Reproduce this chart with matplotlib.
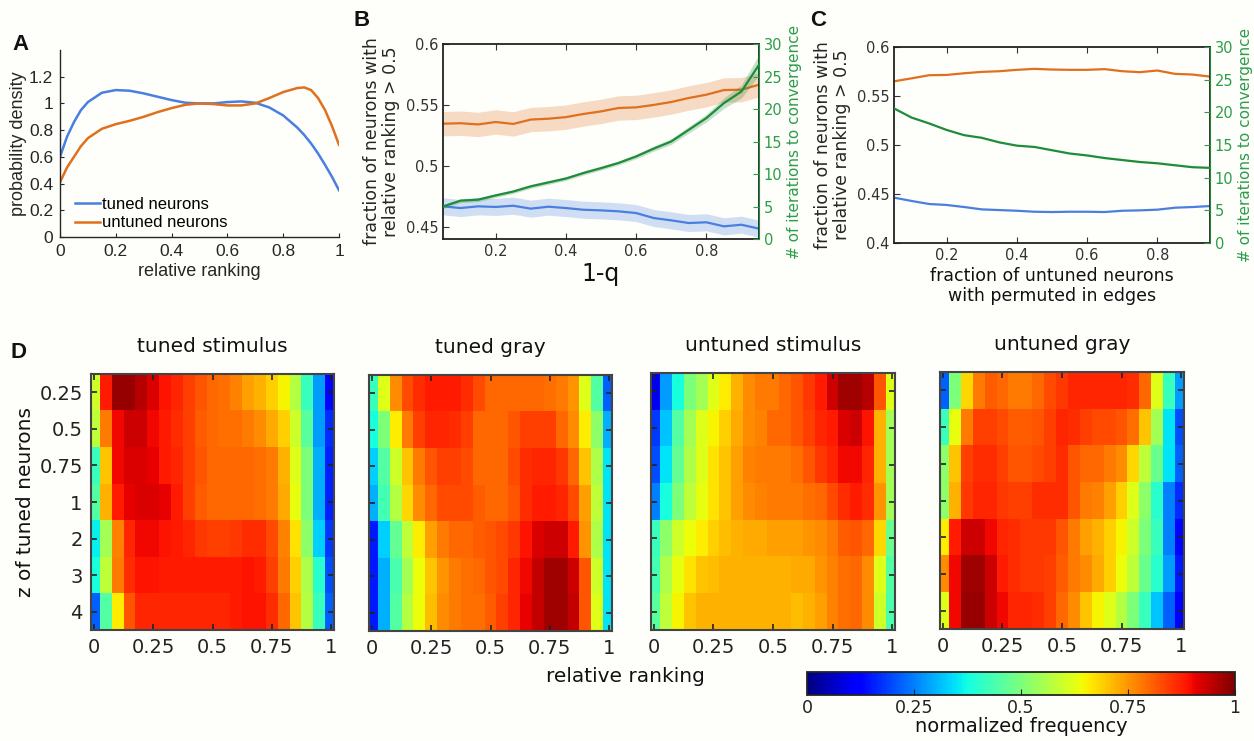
import numpy as np
import matplotlib
matplotlib.use("Agg")
import matplotlib.pyplot as plt

plt.rcParams["font.family"] = ["DejaVu Sans"]

W, H = 1254, 741

# ---------- data ----------
# A: probability density vs relative ranking
rank_x = [0, 0.025, 0.05, 0.075, 0.1, 0.15, 0.2, 0.25, 0.3, 0.35, 0.4, 0.45, 0.5,
          0.55, 0.6, 0.65, 0.7, 0.75, 0.8, 0.85, 0.875, 0.9, 0.925, 0.95, 0.975, 1.0]
dens_tuned = [0.6, 0.75, 0.86, 0.95, 1.01, 1.08, 1.1, 1.095, 1.075, 1.05, 1.025, 1.005, 1.0,
              1.0, 1.01, 1.015, 1.005, 0.97, 0.91, 0.82, 0.765, 0.7, 0.625, 0.54, 0.45, 0.35]
dens_untuned = [0.41, 0.52, 0.6, 0.68, 0.74, 0.81, 0.845, 0.87, 0.9, 0.935, 0.965, 0.99, 1.0,
                0.995, 0.985, 0.985, 1.0, 1.04, 1.085, 1.115, 1.12, 1.1, 1.04, 0.95, 0.83, 0.69]

# B and C share the same x grid
frac_x = [0.05, 0.1, 0.15, 0.2, 0.25, 0.3, 0.35, 0.4, 0.45, 0.5,
          0.55, 0.6, 0.65, 0.7, 0.75, 0.8, 0.85, 0.9, 0.95]

b_untuned = [0.5346, 0.535, 0.534, 0.536, 0.5344, 0.538, 0.5387, 0.540, 0.5426, 0.5447,
             0.5475, 0.548, 0.550, 0.5524, 0.5557, 0.5584, 0.5622, 0.5625, 0.5666]
b_untuned_err = [0.010] * 19
b_tuned = [0.4668, 0.4654, 0.4668, 0.4663, 0.4673, 0.4649, 0.4665, 0.4654, 0.464, 0.4635,
           0.4627, 0.4613, 0.4572, 0.4553, 0.4531, 0.4537, 0.4504, 0.4517, 0.4485]
b_tuned_err = [0.007] * 19
b_iters = [5.0, 5.9, 6.05, 6.7, 7.3, 8.1, 8.7, 9.3, 10.15, 10.9,
           11.7, 12.7, 13.9, 15.0, 16.8, 18.6, 20.9, 22.7, 26.8]
b_iters_err = [0.3, 0.3, 0.3, 0.3, 0.3, 0.3, 0.3, 0.3, 0.3, 0.3,
               0.3, 0.35, 0.4, 0.45, 0.5, 0.6, 0.8, 1.0, 1.6]

c_untuned = [0.565, 0.568, 0.5712, 0.5715, 0.5732, 0.5746, 0.5753, 0.5767, 0.5777, 0.577,
             0.5767, 0.5767, 0.5774, 0.5753, 0.5743, 0.576, 0.5726, 0.5719, 0.5698]
c_tuned = [0.4463, 0.4429, 0.4398, 0.4388, 0.4367, 0.4343, 0.4336, 0.4329, 0.4319, 0.4316,
           0.4319, 0.4319, 0.4316, 0.4329, 0.4333, 0.434, 0.436, 0.4367, 0.4377]
c_iters = [20.6, 19.2, 18.3, 17.3, 16.5, 16.1, 15.4, 14.9, 14.7, 14.2,
           13.7, 13.4, 13.0, 12.7, 12.4, 12.2, 11.9, 11.6, 11.5]

# D: normalized frequency, rows = z of tuned neurons, columns = relative ranking bins
z_labels = ["0.25", "0.5", "0.75", "1", "2", "3", "4"]
heat_x = [0, 0.05, 0.1, 0.15, 0.2, 0.25, 0.3, 0.35, 0.4, 0.45, 0.5,
          0.55, 0.6, 0.65, 0.7, 0.75, 0.8, 0.85, 0.9, 0.95, 1.0]

tuned_stimulus = [
    [0.60, 0.88, 0.98, 0.98, 0.95, 0.92, 0.89, 0.87, 0.84, 0.82, 0.80, 0.79, 0.77, 0.74, 0.72, 0.69, 0.65, 0.57, 0.42, 0.28, 0.13],
    [0.58, 0.78, 0.90, 0.93, 0.93, 0.90, 0.88, 0.86, 0.84, 0.81, 0.80, 0.79, 0.79, 0.78, 0.76, 0.73, 0.69, 0.60, 0.46, 0.28, 0.17],
    [0.42, 0.70, 0.90, 0.92, 0.92, 0.91, 0.88, 0.87, 0.84, 0.82, 0.80, 0.80, 0.80, 0.80, 0.79, 0.78, 0.72, 0.62, 0.50, 0.30, 0.16],
    [0.45, 0.72, 0.88, 0.91, 0.92, 0.92, 0.91, 0.88, 0.84, 0.81, 0.80, 0.80, 0.80, 0.80, 0.79, 0.78, 0.73, 0.63, 0.50, 0.30, 0.16],
    [0.36, 0.55, 0.77, 0.87, 0.90, 0.90, 0.89, 0.88, 0.87, 0.85, 0.84, 0.84, 0.85, 0.86, 0.86, 0.83, 0.77, 0.67, 0.52, 0.33, 0.18],
    [0.38, 0.58, 0.78, 0.86, 0.89, 0.89, 0.88, 0.88, 0.88, 0.88, 0.88, 0.88, 0.88, 0.89, 0.88, 0.84, 0.78, 0.69, 0.56, 0.40, 0.20],
    [0.22, 0.45, 0.66, 0.82, 0.87, 0.87, 0.87, 0.87, 0.87, 0.87, 0.87, 0.87, 0.88, 0.89, 0.89, 0.86, 0.80, 0.70, 0.57, 0.42, 0.22],
]
tuned_gray = [
    [0.42, 0.62, 0.76, 0.83, 0.86, 0.88, 0.88, 0.88, 0.86, 0.83, 0.80, 0.80, 0.80, 0.80, 0.80, 0.79, 0.78, 0.75, 0.62, 0.45, 0.22],
    [0.38, 0.50, 0.66, 0.78, 0.84, 0.87, 0.87, 0.86, 0.84, 0.80, 0.80, 0.80, 0.82, 0.84, 0.84, 0.84, 0.80, 0.76, 0.66, 0.52, 0.30],
    [0.33, 0.45, 0.60, 0.70, 0.78, 0.82, 0.84, 0.84, 0.83, 0.80, 0.80, 0.80, 0.83, 0.86, 0.87, 0.87, 0.85, 0.80, 0.70, 0.56, 0.35],
    [0.30, 0.43, 0.57, 0.68, 0.76, 0.80, 0.83, 0.83, 0.83, 0.81, 0.80, 0.80, 0.82, 0.86, 0.88, 0.88, 0.87, 0.83, 0.74, 0.58, 0.35],
    [0.15, 0.33, 0.47, 0.58, 0.66, 0.74, 0.78, 0.80, 0.80, 0.81, 0.82, 0.83, 0.85, 0.89, 0.92, 0.93, 0.93, 0.88, 0.75, 0.56, 0.35],
    [0.15, 0.30, 0.44, 0.55, 0.64, 0.70, 0.75, 0.78, 0.79, 0.80, 0.82, 0.83, 0.87, 0.90, 0.94, 0.97, 0.97, 0.93, 0.82, 0.60, 0.35],
    [0.15, 0.30, 0.45, 0.57, 0.64, 0.71, 0.76, 0.78, 0.79, 0.79, 0.81, 0.84, 0.87, 0.91, 0.94, 0.97, 0.97, 0.94, 0.82, 0.62, 0.35],
]
untuned_stimulus = [
    [0.10, 0.28, 0.38, 0.50, 0.55, 0.62, 0.66, 0.72, 0.76, 0.78, 0.78, 0.80, 0.82, 0.85, 0.88, 0.93, 0.97, 0.97, 0.95, 0.82, 0.62],
    [0.18, 0.32, 0.45, 0.55, 0.62, 0.65, 0.69, 0.73, 0.76, 0.77, 0.80, 0.80, 0.82, 0.84, 0.87, 0.88, 0.92, 0.93, 0.89, 0.72, 0.55],
    [0.20, 0.35, 0.47, 0.56, 0.62, 0.67, 0.70, 0.74, 0.77, 0.78, 0.78, 0.78, 0.79, 0.82, 0.85, 0.87, 0.90, 0.90, 0.87, 0.72, 0.55],
    [0.25, 0.38, 0.50, 0.58, 0.63, 0.67, 0.70, 0.74, 0.76, 0.77, 0.78, 0.78, 0.78, 0.79, 0.80, 0.83, 0.86, 0.88, 0.86, 0.75, 0.55],
    [0.42, 0.52, 0.60, 0.64, 0.66, 0.69, 0.71, 0.72, 0.73, 0.73, 0.74, 0.74, 0.74, 0.75, 0.76, 0.78, 0.81, 0.82, 0.80, 0.68, 0.48],
    [0.43, 0.56, 0.63, 0.67, 0.70, 0.71, 0.72, 0.72, 0.72, 0.72, 0.72, 0.72, 0.73, 0.73, 0.75, 0.77, 0.79, 0.80, 0.76, 0.62, 0.45],
    [0.46, 0.58, 0.65, 0.70, 0.72, 0.72, 0.72, 0.72, 0.72, 0.72, 0.72, 0.72, 0.71, 0.72, 0.74, 0.77, 0.79, 0.80, 0.76, 0.60, 0.44],
]
untuned_gray = [
    [0.22, 0.50, 0.68, 0.78, 0.81, 0.80, 0.78, 0.78, 0.80, 0.83, 0.85, 0.87, 0.87, 0.87, 0.87, 0.87, 0.86, 0.80, 0.62, 0.42, 0.28],
    [0.42, 0.63, 0.78, 0.84, 0.84, 0.83, 0.81, 0.81, 0.82, 0.84, 0.87, 0.86, 0.84, 0.83, 0.83, 0.82, 0.79, 0.70, 0.55, 0.35, 0.20],
    [0.52, 0.70, 0.84, 0.86, 0.86, 0.84, 0.82, 0.82, 0.83, 0.84, 0.86, 0.82, 0.80, 0.80, 0.78, 0.76, 0.68, 0.58, 0.48, 0.35, 0.22],
    [0.52, 0.72, 0.85, 0.87, 0.87, 0.85, 0.84, 0.84, 0.86, 0.86, 0.86, 0.82, 0.78, 0.77, 0.74, 0.69, 0.62, 0.52, 0.40, 0.25, 0.17],
    [0.66, 0.88, 0.93, 0.93, 0.90, 0.87, 0.86, 0.85, 0.85, 0.85, 0.82, 0.78, 0.74, 0.72, 0.69, 0.65, 0.60, 0.50, 0.42, 0.25, 0.13],
    [0.76, 0.90, 0.97, 0.97, 0.93, 0.88, 0.86, 0.85, 0.85, 0.84, 0.81, 0.78, 0.76, 0.73, 0.69, 0.64, 0.58, 0.48, 0.40, 0.28, 0.15],
    [0.62, 0.90, 0.98, 0.98, 0.93, 0.90, 0.87, 0.87, 0.86, 0.84, 0.80, 0.76, 0.70, 0.65, 0.62, 0.57, 0.50, 0.42, 0.32, 0.22, 0.12],
]
heat_titles = ["tuned stimulus", "tuned gray", "untuned stimulus", "untuned gray"]
heat_data = [tuned_stimulus, tuned_gray, untuned_stimulus, untuned_gray]

# ---------- style ----------
BLUE = "#4a7fe0"
ORANGE = "#df701d"
GREEN = "#1e8c3a"
GREEN_TXT = "#2c9d4a"
BG = "#fefefb"
TXT = "#262626"


def box(l, t, r, b):
    # pixel box -> figure fraction
    return [l / W, 1 - b / H, (r - l) / W, (b - t) / H]


fig = plt.figure(figsize=(W / 100, H / 100), dpi=100, facecolor=BG)

# ---------- A ----------
axA = fig.add_axes(box(60, 50, 339, 237))
axA.set_facecolor(BG)
axA.plot(rank_x, dens_tuned, color=BLUE, lw=1.8, label="tuned neurons")
axA.plot(rank_x, dens_untuned, color=ORANGE, lw=1.8, label="untuned neurons")
axA.set_xlim(0, 1)
axA.set_ylim(0, 1.4)
axA.set_xticks([0, 0.2, 0.4, 0.6, 0.8, 1])
axA.set_xticklabels(["0", "0.2", "0.4", "0.6", "0.8", "1"])
axA.set_yticks([0, 0.2, 0.4, 0.6, 0.8, 1, 1.2])
axA.set_yticklabels(["0", "0.2", "0.4", "0.6", "0.8", "1", "1.2"])
for s in ["top", "right"]:
    axA.spines[s].set_visible(False)
for s in ["left", "bottom"]:
    axA.spines[s].set_color(TXT)
    axA.spines[s].set_linewidth(1.0)
axA.tick_params(direction="in", length=3, labelsize=12.5, colors=TXT, pad=5)
for lab in axA.get_xticklabels() + axA.get_yticklabels():
    lab.set_family("Liberation Sans")
axA.set_xlabel("relative ranking", fontsize=13, family="Liberation Sans", color=TXT, labelpad=3)
axA.set_ylabel("probability density", fontsize=13, family="Liberation Sans", color=TXT, labelpad=1)
axA.legend(loc="lower left", frameon=False, handlelength=1.5, handletextpad=0.1,
           borderaxespad=0.0, labelspacing=0.2, prop={"family": "Liberation Sans", "size": 12},
           bbox_to_anchor=(0.03, 0.0))


def twin_panel(rect, xs, y_unt, y_tun, it, ylim, yticks, ylabels, err=None):
    ax = fig.add_axes(rect)
    ax.set_facecolor(BG)
    if err is not None:
        eu, et, ei = err
        ax.fill_between(xs, np.array(y_unt) - eu, np.array(y_unt) + eu, color=ORANGE, alpha=0.25, lw=0)
        ax.fill_between(xs, np.array(y_tun) - et, np.array(y_tun) + et, color=BLUE, alpha=0.25, lw=0)
    ax.plot(xs, y_unt, color=ORANGE, lw=1.6)
    ax.plot(xs, y_tun, color=BLUE, lw=1.6)
    ax.set_xlim(0.05, 0.95)
    ax.set_ylim(*ylim)
    ax.set_xticks([0.2, 0.4, 0.6, 0.8])
    ax.set_yticks(yticks)
    ax.set_yticklabels(ylabels)
    ax.tick_params(direction="in", length=4, labelsize=10.5, colors="#333333", top=True)
    for s in ax.spines.values():
        s.set_color("#222222")
        s.set_linewidth(1.3)
    ax.set_ylabel("fraction of neurons with\nrelative ranking > 0.5", fontsize=12.5,
                  color=TXT, labelpad=4, linespacing=1.1)
    ax2 = ax.twinx()
    if err is not None:
        ax2.fill_between(xs, np.array(it) - np.array(ei), np.array(it) + np.array(ei),
                         color=GREEN, alpha=0.25, lw=0)
    ax2.plot(xs, it, color=GREEN, lw=1.6)
    ax2.set_ylim(0, 30)
    ax2.set_yticks([0, 5, 10, 15, 20, 25, 30])
    ax2.tick_params(direction="in", length=4, labelsize=10.5, colors=GREEN_TXT)
    ax2.spines["right"].set_color(GREEN)
    ax2.set_ylabel("# of iterations to convergence", fontsize=11, color=GREEN_TXT, labelpad=3)
    for s in ["top", "left", "bottom"]:
        ax2.spines[s].set_visible(False)
    return ax


# ---------- B ----------
axB = twin_panel(box(443, 44, 759, 239), frac_x, b_untuned, b_tuned, b_iters,
                 (0.44, 0.6), [0.45, 0.5, 0.55, 0.6], ["0.45", "0.5", "0.55", "0.6"],
                 err=(np.array(b_untuned_err), np.array(b_tuned_err), b_iters_err))
axB.set_xlabel("1-q", fontsize=17, color="#111111", labelpad=2)

# ---------- C ----------
axC = twin_panel(box(894, 47, 1210, 243), frac_x, c_untuned, c_tuned, c_iters,
                 (0.4, 0.6), [0.4, 0.45, 0.5, 0.55, 0.6], ["0.4", "0.45", "0.5", "0.55", "0.6"])
axC.set_xlabel("fraction of untuned neurons\nwith permuted in edges", fontsize=12.5,
               color="#111111", labelpad=3, linespacing=1.15)

# ---------- D ----------
heat_boxes = [(91, 374, 334, 630), (369, 375, 612, 631), (651, 373, 895, 630), (940, 372, 1184, 629)]
step = heat_x[1] - heat_x[0]
im = None
for i, (title, data) in enumerate(zip(heat_titles, heat_data)):
    ax = fig.add_axes(box(*heat_boxes[i]))
    im = ax.imshow(np.array(data), cmap="jet", vmin=0, vmax=1, aspect="auto",
                   interpolation="nearest",
                   extent=[heat_x[0] - step / 2, heat_x[-1] + step / 2, len(z_labels) - 0.5, -0.5])
    ax.set_xlim(-0.0125, 1.0125)
    ax.set_xticks([0, 0.25, 0.5, 0.75, 1])
    ax.set_xticklabels(["0", "0.25", "0.5", "0.75", "1"])
    ax.set_yticks(range(len(z_labels)))
    ax.tick_params(direction="in", length=4, width=1.2, top=True, right=True,
                   labelsize=14, colors="#222222", pad=6)
    if i == 0:
        ax.set_yticklabels(z_labels)
        ax.set_ylabel("z of tuned neurons", fontsize=14.5, color="#111111", labelpad=3)
    else:
        ax.set_yticklabels([])
    for s in ax.spines.values():
        s.set_color("#444444")
        s.set_linewidth(1.5)
    ax.set_title(title, fontsize=14.5, color="#111111", pad=16)

fig.text(625 / W, 1 - 676 / H, "relative ranking", fontsize=14.5, color="#111111",
         ha="center", va="center")

# colorbar
cax = fig.add_axes(box(807, 672, 1235, 695))
cb = fig.colorbar(im, cax=cax, orientation="horizontal", ticks=[0, 0.25, 0.5, 0.75, 1])
cb.ax.set_xticklabels(["0", "0.25", "0.5", "0.75", "1"])
cb.ax.tick_params(direction="in", length=4, labelsize=12.5, colors="#222222", pad=3)
cb.outline.set_color("#222222")
cb.outline.set_linewidth(1.3)
cb.set_label("normalized frequency", fontsize=14, color="#111111", labelpad=0)

# panel letters
for letter, x, y in [("A", 12, 45), ("B", 354, 20), ("C", 810, 20), ("D", 10, 352)]:
    fig.text(x / W, 1 - y / H, letter, fontsize=16, fontweight="bold", color="#111111",
             ha="left", va="center", family="Liberation Sans")

fig.savefig("out.png", dpi=100, facecolor=BG)
